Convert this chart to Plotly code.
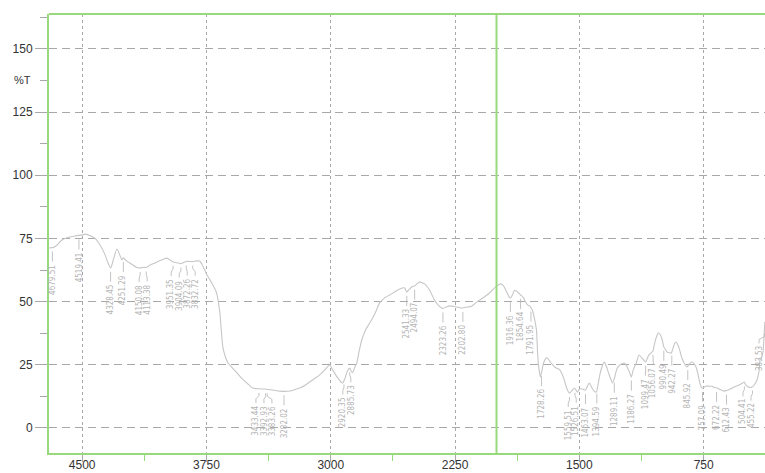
import numpy as np
import plotly.graph_objects as go

# IR transmittance spectrum (wavenumber in cm-1, %T)
wavenumber = [
    4699, 4670, 4650, 4620, 4580, 4540, 4500, 4476, 4450, 4422, 4392, 4361, 4345, 4328,
    4310, 4290, 4270, 4260, 4251, 4230, 4200, 4170, 4150, 4130, 4113, 4090, 4060, 4030,
    4010, 3990, 3970, 3951, 3930, 3910, 3904, 3885, 3872, 3850, 3832, 3810, 3790, 3775,
    3760, 3747, 3730, 3711, 3695, 3687, 3669, 3651, 3635, 3620, 3590, 3566, 3535, 3506,
    3470, 3433, 3400, 3386, 3350, 3307, 3282, 3247, 3215, 3187, 3157, 3127, 3097, 3066,
    3036, 3006, 2988, 2960, 2940, 2928, 2915, 2900, 2886, 2875, 2868, 2855, 2843, 2830,
    2813, 2790, 2765, 2735, 2705, 2675, 2645, 2615, 2584, 2554, 2542, 2530, 2512, 2494,
    2480, 2464, 2450, 2434, 2404, 2374, 2350, 2331, 2323, 2300, 2283, 2250, 2220, 2205,
    2180, 2151, 2125, 2102, 2070, 2042, 2010, 1985, 1970, 1955, 1940, 1925, 1916, 1905,
    1892, 1880, 1865, 1854, 1840, 1825, 1813, 1800, 1791, 1783, 1770, 1759, 1752, 1745,
    1735, 1725, 1716, 1700, 1693, 1680, 1670, 1655, 1639, 1621, 1605, 1591, 1575, 1560,
    1545, 1530, 1520, 1512, 1500, 1488, 1475, 1463, 1452, 1440, 1425, 1410, 1398, 1385,
    1375, 1362, 1350, 1338, 1325, 1312, 1300, 1289, 1280, 1271, 1255, 1241, 1229, 1215,
    1199, 1187, 1175, 1157, 1140, 1120, 1100, 1091, 1080, 1066, 1056, 1045, 1035, 1024,
    1012, 1000, 990, 980, 970, 958, 946, 935, 925, 916, 907, 898, 883, 868,
    850, 835, 820, 808, 796, 785, 777, 767, 759, 745, 735, 715, 699, 685,
    669, 650, 627, 612, 595, 578, 556, 536, 515, 506, 495, 488, 470, 458,
    445, 428, 415, 410, 400, 392, 386, 381,
]
transmittance = [
    71.2, 71.5, 72.5, 74.5, 75.5, 76.0, 76.4, 76.7, 76.0, 75.0, 72.4, 68.4, 65.5, 63.3,
    67.0, 70.8, 68.0, 66.5, 67.3, 66.0, 64.8, 63.5, 63.3, 63.6, 63.5, 64.5, 65.3, 66.3,
    66.8, 67.2, 66.5, 65.7, 65.4, 65.1, 65.0, 65.6, 65.9, 65.9, 65.8, 66.1, 66.0, 64.5,
    62.5, 60.5, 58.8, 56.5, 54.5, 53.0, 45.5, 32.0, 28.0, 25.7, 23.5, 21.8, 19.5, 17.8,
    15.8, 15.5, 15.4, 15.3, 15.0, 14.6, 14.5, 14.6, 15.2, 15.8, 16.8, 18.2, 19.6, 21.0,
    23.0, 24.9, 22.9, 20.0, 18.3, 17.8, 19.5, 22.5, 23.7, 22.3, 22.0, 24.0, 25.7, 30.0,
    34.8, 38.8, 41.5, 45.0, 49.5, 51.5, 52.6, 53.8, 55.0, 55.4, 53.8, 54.6, 55.8, 56.3,
    57.0, 57.8, 57.5, 57.0, 54.6, 50.6, 48.5, 47.5, 47.3, 48.0, 48.3, 48.0, 47.6, 47.5,
    47.8, 48.2, 49.5, 50.6, 52.0, 53.4, 55.5, 56.8, 57.0, 56.0, 54.0, 52.0, 51.4, 52.5,
    54.4, 54.2, 53.3, 52.6, 51.8, 50.0, 48.7, 48.3, 47.5, 46.5, 43.0, 38.8, 29.7, 24.0,
    20.2, 23.0, 25.7, 27.7, 27.7, 26.5, 25.7, 24.5, 23.7, 23.2, 21.5, 19.0, 15.5, 13.8,
    14.8, 15.8, 15.0, 14.2, 15.3, 15.5, 15.2, 15.0, 16.5, 17.8, 16.0, 14.5, 14.2, 18.0,
    21.5, 24.5, 26.1, 24.5, 22.0, 19.5, 17.8, 19.5, 22.0, 23.7, 25.0, 25.5, 25.7, 24.5,
    22.2, 20.2, 23.0, 25.7, 28.9, 27.5, 26.1, 27.5, 28.9, 29.8, 30.5, 33.8, 36.0, 37.6,
    37.0, 34.8, 32.0, 31.0, 30.0, 29.8, 29.6, 31.5, 33.5, 34.0, 33.0, 31.6, 28.0, 25.7,
    24.1, 25.5, 26.1, 25.5, 24.1, 21.5, 19.0, 16.5, 15.8, 16.2, 16.6, 16.5, 16.5, 16.0,
    15.8, 15.2, 14.6, 14.8, 15.2, 15.8, 16.5, 17.0, 17.8, 18.2, 17.0, 16.5, 16.0, 16.2,
    17.0, 19.0, 23.0, 27.0, 28.0, 30.0, 36.0, 42.0,
]

# Peak picks (cm-1)
peak_labels = [
    "4679.51", "4519.41", "4328.45", "4251.29", "4150.08", "4113.38", "3951.35",
    "3904.09", "3872.26", "3832.72", "3433.44", "3392.93", "3383.26", "3282.02",
    "2920.35", "2885.73", "2541.33", "2494.07", "2323.26", "2202.80", "1916.36",
    "1854.64", "1791.95", "1728.26", "1559.51", "1526.51", "1463.07", "1394.59",
    "1289.11", "1186.27", "1099.47", "1056.07", "990.49", "942.27", "845.92",
    "757.09", "672.22", "612.43", "504.41", "455.22", "383.53",
]
peak_positions = [float(s) for s in peak_labels]

# Axis ticks
x_ticks = [4500, 3750, 3000, 2250, 1500, 750]
x_minor_ticks = [4125, 3375, 2625, 1875, 1125]
y_ticks = [0, 25, 50, 75, 100, 125, 150]

X_RANGE = [4700, 380]
Y_RANGE = [-9.9, 163.8]
W, H = 765, 473
M_L, M_R, M_T, M_B = 49, 0, 14, 20
GREEN = "#98d97b"
GRID = "#a8a8a8"
TRACE = "#c6c6c6"
LABEL = "#b4b4b4"
SANS = "Liberation Sans, Arial, sans-serif"
NARROW = "Liberation Sans Narrow, DejaVu Sans Condensed, Roboto Condensed, sans-serif"

plot_w = W - M_L - M_R
px_per_unit = (H - M_T - M_B) / (Y_RANGE[1] - Y_RANGE[0])
px_per_wn = plot_w / (X_RANGE[0] - X_RANGE[1])


def wn_to_px(w):
    return (X_RANGE[0] - w) * px_per_wn


def px_to_wn(p):
    return X_RANGE[0] - p / px_per_wn


# Spread crowded labels apart so their rotated text does not overlap,
# keeping the outermost ones inside the figure
MIN_GAP = 8.0
EDGE = 6.0
anchor_px = np.array([wn_to_px(p) for p in peak_positions])
order_px = np.argsort(anchor_px)
text_px = anchor_px[order_px].copy()
for _ in range(300):
    moved = False
    text_px[-1] = min(text_px[-1], plot_w - EDGE)
    for i in range(1, len(text_px)):
        d = text_px[i] - text_px[i - 1]
        if d < MIN_GAP - 1e-6:
            shift = (MIN_GAP - d) / 2
            text_px[i - 1] -= shift
            text_px[i] += shift
            moved = True
    if text_px[-1] > plot_w - EDGE:
        moved = True
    if not moved:
        break
text_px[-1] = min(text_px[-1], plot_w - EDGE)
text_x = np.empty_like(text_px)
text_x[order_px] = text_px

fig = go.Figure()
fig.add_trace(go.Scatter(
    x=wavenumber, y=transmittance, mode="lines",
    line=dict(color=TRACE, width=1.1, shape="spline", smoothing=0.6),
    hoverinfo="skip", showlegend=False,
))

# Leader lines (with a dog-leg when a label was nudged) and rotated peak labels
order = np.argsort(wavenumber)
wn_sorted = np.asarray(wavenumber, dtype=float)[order]
t_sorted = np.asarray(transmittance, dtype=float)[order]
lx, ly = [], []
annotations = []
for label, pos, tpx in zip(peak_labels, peak_positions, text_x):
    yc = float(np.interp(pos, wn_sorted, t_sorted))
    tx = px_to_wn(tpx)
    lx += [pos, pos, tx, tx, None]
    ly += [yc - 4 / px_per_unit, yc - 7 / px_per_unit,
           yc - 10 / px_per_unit, yc - 14 / px_per_unit, None]
    annotations.append(dict(
        x=tx, y=yc - 15 / px_per_unit, xref="x", yref="y",
        text=label, showarrow=False, textangle=-90,
        xanchor="center", yanchor="top",
        font=dict(family=NARROW, size=8, color=LABEL),
    ))
fig.add_trace(go.Scatter(
    x=lx, y=ly, mode="lines", line=dict(color=LABEL, width=0.8),
    hoverinfo="skip", showlegend=False,
))

# y-axis title placed as a tick-style label
annotations.append(dict(
    x=0, y=137.5, xref="paper", yref="y", text="%T", showarrow=False,
    xanchor="right", yanchor="middle", xshift=-16,
    font=dict(family=SANS, size=11, color="#333333"),
))

fig.update_layout(
    width=W, height=H,
    margin=dict(l=M_L, r=M_R, t=M_T, b=M_B),
    paper_bgcolor="white", plot_bgcolor="white",
    annotations=annotations,
    shapes=[
        dict(type="line", xref="paper", yref="paper", x0=0, x1=1, y0=1, y1=1,
             line=dict(color=GREEN, width=2)),
        dict(type="line", xref="x", yref="paper", x0=2000, x1=2000, y0=0, y1=1,
             line=dict(color=GREEN, width=2)),
    ],
)
fig.update_xaxes(
    range=X_RANGE, tickvals=x_ticks, ticktext=[str(v) for v in x_ticks],
    automargin=False,
    showgrid=True, gridcolor=GRID, griddash="3px,3px", gridwidth=1,
    showline=True, linecolor=GREEN, linewidth=2, zeroline=False,
    ticks="outside", ticklen=7, tickcolor=GRID, ticklabelstandoff=-7,
    tickfont=dict(family=SANS, size=12, color="#333333"),
    minor=dict(tickvals=x_minor_ticks, ticks="outside", ticklen=6,
               tickcolor=GREEN, showgrid=False),
)
fig.update_yaxes(
    range=Y_RANGE, tickvals=y_ticks, automargin=False,
    showgrid=True, gridcolor=GRID, griddash="8px,5px", gridwidth=1,
    showline=True, linecolor=GREEN, linewidth=2, zeroline=False,
    ticks="outside", ticklen=12, tickcolor=GRID,
    tickfont=dict(family=SANS, size=12, color="#333333"),
    minor=dict(dtick=12.5, tick0=0, ticks="outside", ticklen=7,
               tickcolor=GRID, showgrid=False),
)

fig.write_html("out.html")
